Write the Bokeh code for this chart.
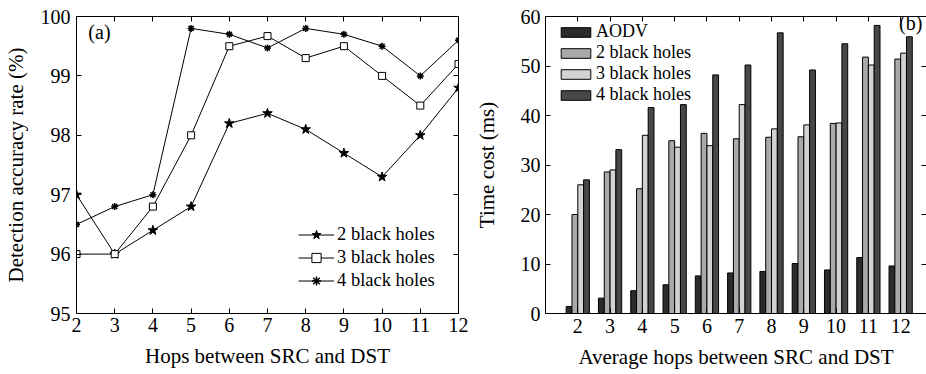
from bokeh.plotting import figure
from bokeh.layouts import row
from bokeh.models import (Range1d, LinearAxis, FixedTicker, Legend, LegendItem,
                          Label, ColumnDataSource, CustomJSTickFormatter)
from bokeh.transform import dodge
from bokeh.embed import file_html
from bokeh.resources import INLINE

FONT = "Liberation Serif"

# ---- data (a) ----
hops_a = [2, 3, 4, 5, 6, 7, 8, 9, 10, 11, 12]
acc_2bh = [97.0, 96.0, 96.4, 96.8, 98.2, 98.37, 98.1, 97.7, 97.3, 98.0, 98.8]
acc_3bh = [96.0, 96.0, 96.8, 98.0, 99.5, 99.67, 99.3, 99.5, 99.0, 98.5, 99.2]
acc_4bh = [96.5, 96.8, 97.0, 99.8, 99.7, 99.47, 99.8, 99.7, 99.5, 99.0, 99.6]
ticks_a_y = [95, 96, 97, 98, 99, 100]

# ---- data (b) ----
hops_b = [2, 3, 4, 5, 6, 7, 8, 9, 10, 11, 12]
t_aodv = [1.4, 3.1, 4.6, 5.8, 7.6, 8.2, 8.5, 10.1, 8.8, 11.3, 9.6]
t_2bh = [20.0, 28.6, 25.2, 34.9, 36.4, 35.3, 35.6, 35.7, 38.4, 51.8, 51.4]
t_3bh = [26.0, 29.0, 36.0, 33.6, 33.9, 42.2, 37.3, 38.1, 38.5, 50.2, 52.6]
t_4bh = [27.0, 33.1, 41.6, 42.2, 48.2, 50.2, 56.7, 49.2, 54.5, 58.2, 55.9]
ticks_b_y = [0, 10, 20, 30, 40, 50, 60]

bar_names = ["AODV", "2 black holes", "3 black holes", "4 black holes"]
bar_colors = ["#2b2b2b", "#a9a9a9", "#d2d2d2", "#474747"]

TICK_FS = "20px"
LABEL_FS = "21px"
LEG_FS = "18px"


def style_axis(ax, show_labels=True):
    ax.axis_line_color = "black"
    ax.axis_line_width = 1
    ax.major_tick_in = 5
    ax.major_tick_out = 0
    ax.major_tick_line_color = "black"
    ax.minor_tick_line_color = None
    ax.major_label_text_font = FONT
    ax.major_label_text_font_size = TICK_FS
    ax.major_label_text_color = "black"
    ax.axis_label_text_font = FONT
    ax.axis_label_text_font_size = LABEL_FS
    ax.axis_label_text_font_style = "normal"
    ax.axis_label_text_color = "black"
    if not show_labels:
        ax.formatter = CustomJSTickFormatter(code="return '';")
        ax.major_label_standoff = 0


# ================= panel (a) =================
pa = figure(width=470, height=374, output_backend="svg", toolbar_location=None,
            x_range=Range1d(2, 12), y_range=Range1d(95, 100),
            min_border_left=75, min_border_right=12, min_border_top=16,
            min_border_bottom=61)
pa.outline_line_color = "black"
pa.grid.visible = False

pa.xaxis.ticker = FixedTicker(ticks=hops_a)
pa.yaxis.ticker = FixedTicker(ticks=ticks_a_y)
pa.xaxis.axis_label = "Hops between SRC and DST"
pa.yaxis.axis_label = "Detection accuracy rate (%)"
for ax in pa.xaxis + pa.yaxis:
    style_axis(ax)
pa.xaxis.major_label_standoff = 4
pa.yaxis.major_label_standoff = 6
pa.xaxis.axis_label_standoff = 9
pa.yaxis.axis_label_standoff = 10

top_a = LinearAxis(ticker=FixedTicker(ticks=hops_a))
right_a = LinearAxis(ticker=FixedTicker(ticks=ticks_a_y))
style_axis(top_a, False)
style_axis(right_a, False)
pa.add_layout(top_a, "above")
pa.add_layout(right_a, "right")

l2 = pa.line(hops_a, acc_2bh, line_color="black", line_width=1)
m2 = pa.scatter(hops_a, acc_2bh, marker="star", size=10, line_color="black",
                fill_color="black", line_width=1)
l3 = pa.line(hops_a, acc_3bh, line_color="black", line_width=1)
m3 = pa.scatter(hops_a, acc_3bh, marker="square", size=7, line_color="black",
                fill_color="white", line_width=1)
l4 = pa.line(hops_a, acc_4bh, line_color="black", line_width=1)
m4 = pa.scatter(hops_a, acc_4bh, marker="asterisk", size=7, line_color="black",
                line_width=1.5)

leg_a = Legend(items=[LegendItem(label="2 black holes", renderers=[l2, m2]),
                      LegendItem(label="3 black holes", renderers=[l3, m3]),
                      LegendItem(label="4 black holes", renderers=[l4, m4])],
               location=(222, 21), padding=0, margin=0, spacing=0,
               glyph_width=36, glyph_height=23, label_height=23,
               label_standoff=3, border_line_color=None,
               background_fill_alpha=0,
               label_text_font=FONT, label_text_font_size="18.5px",
               label_text_color="black")
pa.add_layout(leg_a)
pa.add_layout(Label(x=2.31, y=99.74, text="(a)", text_font=FONT,
                    text_font_size=TICK_FS, text_baseline="middle",
                    text_color="black"))

# ================= panel (b) =================
src = ColumnDataSource(dict(x=hops_b, aodv=t_aodv, b2=t_2bh, b3=t_3bh, b4=t_4bh))
pb = figure(width=456, height=374, output_backend="svg", toolbar_location=None,
            x_range=Range1d(1, 12.8), y_range=Range1d(0, 60),
            min_border_left=75, min_border_right=0, min_border_top=16,
            min_border_bottom=59)
pb.outline_line_color = None
pb.grid.visible = False
pb.xaxis.ticker = FixedTicker(ticks=hops_b)
pb.yaxis.ticker = FixedTicker(ticks=ticks_b_y)
pb.xaxis.axis_label = "Average hops between SRC and DST"
pb.yaxis.axis_label = "Time cost (ms)"
for ax in pb.xaxis + pb.yaxis:
    style_axis(ax)
pb.xaxis.major_label_standoff = 5
pb.yaxis.major_label_standoff = 5
pb.xaxis.axis_label_standoff = 9
pb.yaxis.axis_label_standoff = 19

top_b = LinearAxis(ticker=FixedTicker(ticks=hops_b))
right_b = LinearAxis(ticker=FixedTicker(ticks=ticks_b_y))
style_axis(top_b, False)
style_axis(right_b, False)
pb.add_layout(top_b, "above")
pb.add_layout(right_b, "right")

w = 0.18
offs = [-0.27, -0.09, 0.09, 0.27]
cols = ["aodv", "b2", "b3", "b4"]
rends = []
for c, o, col in zip(cols, offs, bar_colors):
    r = pb.vbar(x=dodge("x", o), top=c, width=w, source=src, fill_color=col,
                line_color="black", line_width=1)
    rends.append(r)

leg_y = [271, 250, 229, 208]
for n, r, ly in zip(bar_names, rends, leg_y):
    lg = Legend(items=[LegendItem(label=n, renderers=[r])],
                location=(12, ly), padding=0, margin=0, spacing=0,
                glyph_width=37, glyph_height=12, label_height=17,
                label_standoff=2, border_line_color=None,
                background_fill_alpha=0,
                label_text_font=FONT, label_text_font_size=LEG_FS,
                label_text_color="black")
    pb.add_layout(lg)
pb.add_layout(Label(x=11.95, y=58.6, text="(b)", text_font=FONT,
                    text_font_size=TICK_FS, text_baseline="middle",
                    text_color="black"))

layout = row(pa, pb)
open("out.html", "w").write(file_html(layout, INLINE))
